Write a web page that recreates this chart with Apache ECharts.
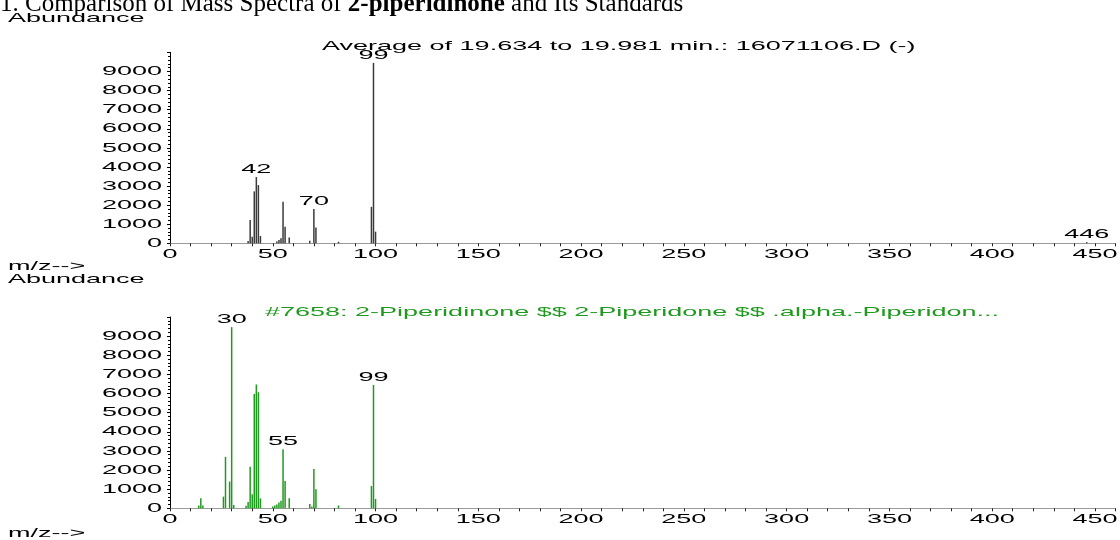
<!DOCTYPE html>
<html>
<head>
<meta charset="utf-8">
<script src="https://cdn.jsdelivr.net/npm/echarts@6/dist/echarts.min.js"></script>
<style>
  html, body { margin: 0; padding: 0; background: #ffffff; }
  #chart { width: 1120px; height: 540px; }
</style>
</head>
<body>
<div id="chart"></div>
<script>
// Averaged sample spectrum (19.634 to 19.981 min, 16071106.D)
const sampleMz        = [38, 39, 40, 41, 42, 43, 44, 52, 53, 54, 55, 56, 58, 68, 70, 71, 82, 98, 99, 100, 446];
const sampleAbundance = [120, 1220, 340, 2720, 3470, 3050, 380, 90, 170, 260, 2180, 870, 300, 140, 1800, 830, 80, 1910, 9450, 610, 60];
const sampleLabeled   = [42, 70, 99, 446];

// Library spectrum #7658, 2-Piperidinone
const libraryMz        = [14, 15, 16, 26, 27, 29, 30, 31, 37, 38, 39, 40, 41, 42, 43, 44, 50, 51, 52, 53, 54, 55, 56, 58, 68, 69, 70, 71, 82, 98, 99, 100];
const libraryAbundance = [140, 520, 150, 610, 2690, 1400, 9470, 170, 130, 330, 2170, 730, 5980, 6470, 6070, 520, 100, 150, 200, 300, 400, 3090, 1430, 520, 230, 100, 2060, 1000, 150, 1170, 6450, 490];
const libraryLabeled   = [30, 55, 99];

// Axis settings
const mzMax = 460, mzMinorStep = 10, mzLabelStep = 50;
const abMax = 10000, abStep = 1000;

const sampleTitle  = 'Average of 19.634 to 19.981 min.: 16071106.D (-)';
const libraryTitle = '#7658: 2-Piperidinone $$ 2-Piperidone $$ .alpha.-Piperidon...';

const SANS = "'Liberation Sans'";
const FS = 13.5;
const GREEN = '#1f9a1f';

// ChemStation printouts use wide, low lettering: stretch sans text horizontally around its anchor
const WIDE = 2.0;
const proto = CanvasRenderingContext2D.prototype;
const rawFillText = proto.fillText;
proto.fillText = function (text, x, y) {
  if (!/Liberation Sans/.test(this.font)) return rawFillText.apply(this, arguments);
  this.save();
  this.translate(x, y);
  this.scale(WIDE, 1);
  rawFillText.call(this, text, 0, 0);
  this.restore();
};

const chart = echarts.init(document.getElementById('chart'), null, { renderer: 'canvas' });

const grids = [
  { left: 170, right: 4.5, top: 52.4, height: 190.9 },
  { left: 170, right: 4.5, top: 317, height: 191.3 }
];

function xAxis(i) {
  return {
    gridIndex: i, type: 'value', min: 0, max: mzMax, interval: mzMinorStep,
    axisLine: { lineStyle: { color: '#9a9a9a', width: 1 } },
    axisTick: { length: 3, lineStyle: { color: '#222' } },
    splitLine: { show: false },
    axisLabel: {
      margin: 4, color: '#000', fontFamily: SANS, fontSize: FS,
      formatter: v => (v % mzLabelStep === 0 ? String(v) : '')
    }
  };
}

function yAxis(i) {
  return {
    gridIndex: i, type: 'value', min: 0, max: abMax, interval: abStep,
    axisLine: { show: true, lineStyle: { color: '#000', width: 1 } },
    axisTick: { show: true, length: 3, lineStyle: { color: '#000' } },
    minorTick: { show: true, splitNumber: 5, length: 2, lineStyle: { color: '#000' } },
    splitLine: { show: false },
    axisLabel: {
      margin: 8, color: '#000', fontFamily: SANS, fontSize: FS,
      formatter: v => (v < abMax ? String(v) : '')
    }
  };
}

function spectrum(i, mz, ab, labeled, color) {
  return {
    type: 'bar', xAxisIndex: i, yAxisIndex: i, barWidth: 1.5,
    itemStyle: { color },
    animation: false,
    label: {
      show: false, position: 'top', distance: 1, color: '#000',
      fontFamily: SANS, fontSize: FS,
      formatter: p => String(p.value[0])
    },
    data: mz.map((m, k) => ({
      value: [m, ab[k]],
      label: { show: labeled.includes(m) }
    }))
  };
}

function sansText(x, y, text, color) {
  return {
    type: 'text', x, y, silent: true,
    style: { text, fill: color || '#000', font: `${FS}px ${SANS}`, align: 'left', verticalAlign: 'middle' }
  };
}

chart.setOption({
  backgroundColor: '#ffffff',
  animation: false,
  grid: grids,
  xAxis: [xAxis(0), xAxis(1)],
  yAxis: [yAxis(0), yAxis(1)],
  series: [
    spectrum(0, sampleMz, sampleAbundance, sampleLabeled, '#3a3a3a'),
    spectrum(1, libraryMz, libraryAbundance, libraryLabeled, GREEN)
  ],
  graphic: [
    {
      type: 'text', x: 0, y: 17, silent: true,
      style: {
        text: '1. Comparison of Mass Spectra of {b|2-piperidinone} and Its Standards',
        font: "25px 'Liberation Serif'", fill: '#000', verticalAlign: 'bottom',
        rich: { b: { fontFamily: 'Liberation Serif', fontSize: 25, fontWeight: 'bold' } }
      }
    },
    sansText(8, 18, 'Abundance'),
    sansText(8, 266, 'm/z-->'),
    sansText(8, 279, 'Abundance'),
    sansText(8, 533, 'm/z-->'),
    sansText(322, 46, sampleTitle),
    sansText(265, 312, libraryTitle, GREEN)
  ]
});
</script>
</body>
</html>
